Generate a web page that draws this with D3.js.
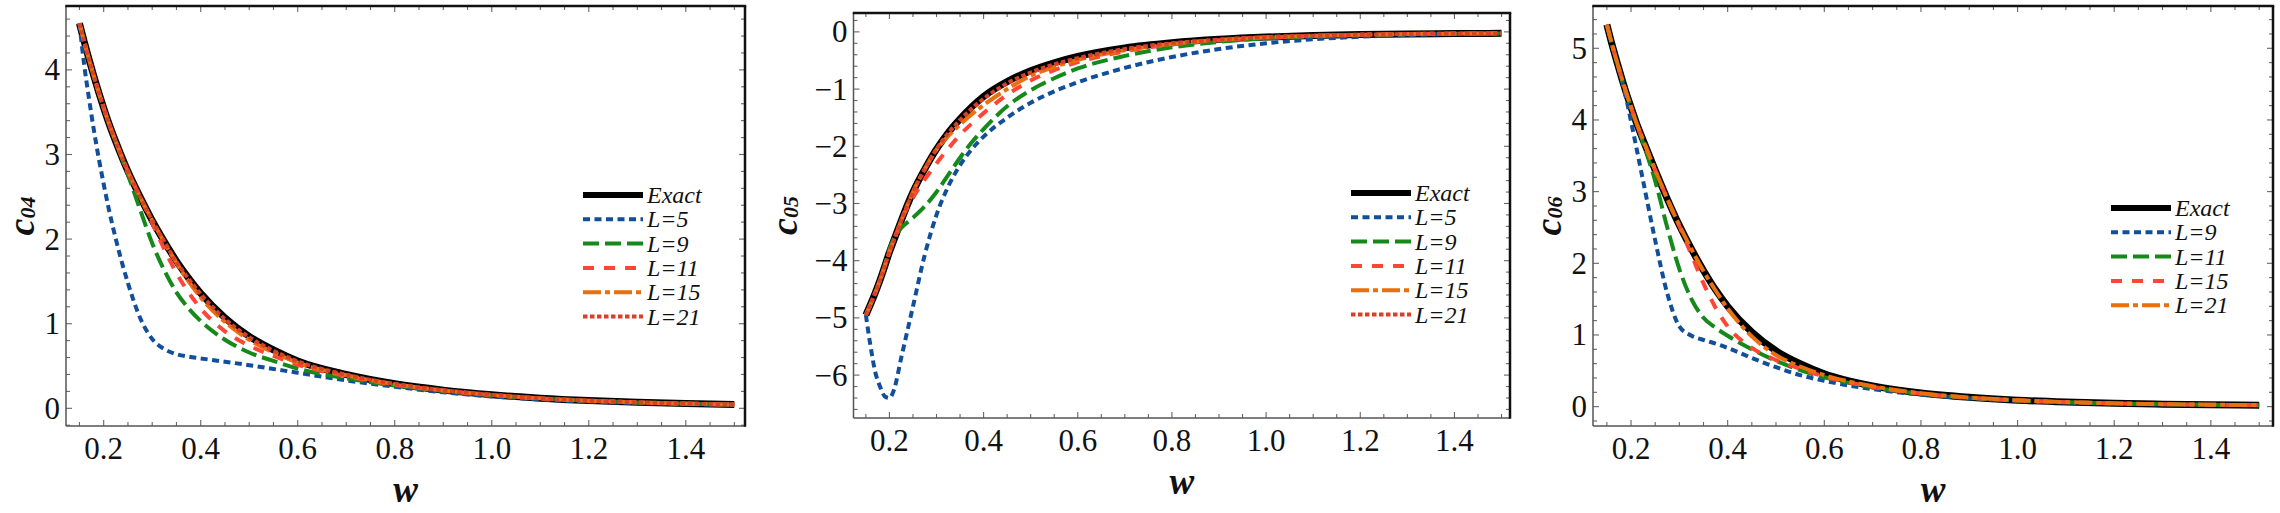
<!DOCTYPE html>
<html>
<head>
<meta charset="utf-8">
<script src="https://cdn.jsdelivr.net/npm/d3@7"></script>
<style>
  html, body { margin: 0; padding: 0; background: #fff; }
  svg { display: block; }
</style>
</head>
<body>
<svg id="chart" width="2280" height="513"></svg>
<script>
// ---------------- DATA ----------------
const wValues = [0.15, 0.16, 0.17, 0.18, 0.19, 0.2, 0.21, 0.225, 0.25, 0.275, 0.3, 0.325, 0.35, 0.375, 0.4, 0.45, 0.5, 0.55, 0.6, 0.7, 0.8, 0.9, 1.0, 1.1, 1.2, 1.3, 1.4, 1.5];

// c04 panel
const c04Exact = [4.55, 4.33, 4.12, 3.92, 3.73, 3.55, 3.38, 3.15, 2.80, 2.50, 2.22, 1.97, 1.74, 1.54, 1.36, 1.07, 0.85, 0.69, 0.56, 0.40, 0.29, 0.215, 0.16, 0.12, 0.092, 0.072, 0.057, 0.045];
const c04L5   = [4.55, 4.05, 3.65, 3.28, 2.95, 2.65, 2.37, 2.00, 1.48, 1.07, 0.82, 0.70, 0.64, 0.61, 0.59, 0.55, 0.51, 0.465, 0.42, 0.33, 0.255, 0.19, 0.14, 0.105, 0.08, 0.062, 0.05, 0.04];
const c04L9   = [4.55, 4.33, 4.12, 3.92, 3.73, 3.55, 3.38, 3.15, 2.76, 2.35, 1.95, 1.63, 1.37, 1.18, 1.03, 0.81, 0.66, 0.56, 0.47, 0.355, 0.27, 0.205, 0.155, 0.116, 0.089, 0.07, 0.055, 0.044];
const c04L11  = [4.55, 4.33, 4.12, 3.92, 3.73, 3.55, 3.38, 3.15, 2.80, 2.50, 2.19, 1.88, 1.60, 1.37, 1.18, 0.91, 0.74, 0.62, 0.515, 0.38, 0.28, 0.21, 0.155, 0.116, 0.089, 0.07, 0.055, 0.044];
const c04L15  = [4.55, 4.33, 4.12, 3.92, 3.73, 3.55, 3.38, 3.15, 2.80, 2.50, 2.22, 1.96, 1.72, 1.50, 1.31, 1.02, 0.81, 0.66, 0.54, 0.39, 0.285, 0.212, 0.158, 0.118, 0.09, 0.071, 0.056, 0.044];
const c04L21  = [4.55, 4.33, 4.12, 3.92, 3.73, 3.55, 3.38, 3.15, 2.80, 2.50, 2.22, 1.97, 1.73, 1.53, 1.35, 1.055, 0.84, 0.68, 0.555, 0.397, 0.288, 0.214, 0.159, 0.119, 0.091, 0.071, 0.056, 0.045];

// c05 panel
const c05Exact = [-4.95, -4.76, -4.56, -4.34, -4.10, -3.85, -3.63, -3.30, -2.80, -2.40, -2.05, -1.76, -1.52, -1.31, -1.13, -0.87, -0.68, -0.54, -0.43, -0.28, -0.19, -0.13, -0.09, -0.065, -0.048, -0.037, -0.03, -0.025];
const c05L5    = [-4.95, -5.50, -5.95, -6.20, -6.37, -6.40, -6.25, -5.70, -4.80, -3.90, -3.20, -2.70, -2.33, -2.05, -1.83, -1.50, -1.24, -1.04, -0.88, -0.63, -0.44, -0.30, -0.20, -0.13, -0.085, -0.055, -0.038, -0.028];
const c05L9    = [-4.95, -4.76, -4.56, -4.34, -4.08, -3.80, -3.60, -3.43, -3.25, -3.05, -2.80, -2.50, -2.20, -1.93, -1.70, -1.30, -1.02, -0.81, -0.64, -0.42, -0.27, -0.175, -0.115, -0.078, -0.056, -0.042, -0.033, -0.027];
const c05L11   = [-4.95, -4.76, -4.56, -4.34, -4.10, -3.85, -3.63, -3.30, -2.90, -2.58, -2.30, -2.04, -1.80, -1.60, -1.42, -1.10, -0.85, -0.67, -0.53, -0.34, -0.22, -0.145, -0.10, -0.07, -0.051, -0.039, -0.031, -0.025];
const c05L15   = [-4.95, -4.76, -4.56, -4.34, -4.10, -3.85, -3.63, -3.30, -2.80, -2.40, -2.06, -1.82, -1.62, -1.44, -1.28, -1.00, -0.77, -0.61, -0.49, -0.32, -0.21, -0.14, -0.095, -0.068, -0.05, -0.038, -0.03, -0.025];
const c05L21   = [-4.95, -4.76, -4.56, -4.34, -4.10, -3.85, -3.63, -3.30, -2.80, -2.40, -2.05, -1.77, -1.54, -1.34, -1.17, -0.90, -0.71, -0.57, -0.46, -0.30, -0.20, -0.135, -0.092, -0.066, -0.049, -0.037, -0.03, -0.025];

// c06 panel
const c06Exact = [5.33, 5.07, 4.83, 4.60, 4.38, 4.18, 3.98, 3.72, 3.30, 2.90, 2.53, 2.20, 1.90, 1.63, 1.40, 1.04, 0.78, 0.60, 0.46, 0.29, 0.19, 0.13, 0.09, 0.064, 0.047, 0.035, 0.027, 0.021];
const c06L9    = [5.33, 5.07, 4.83, 4.58, 4.30, 3.98, 3.65, 3.15, 2.32, 1.58, 1.12, 0.99, 0.93, 0.88, 0.82, 0.68, 0.55, 0.44, 0.36, 0.245, 0.168, 0.117, 0.081, 0.058, 0.043, 0.032, 0.025, 0.019];
const c06L11   = [5.33, 5.07, 4.83, 4.60, 4.38, 4.18, 3.98, 3.68, 3.15, 2.50, 1.92, 1.50, 1.24, 1.10, 0.99, 0.80, 0.64, 0.51, 0.41, 0.27, 0.178, 0.123, 0.086, 0.062, 0.045, 0.034, 0.026, 0.02];
const c06L15   = [5.33, 5.07, 4.83, 4.60, 4.38, 4.18, 3.98, 3.72, 3.30, 2.90, 2.52, 2.12, 1.72, 1.38, 1.12, 0.82, 0.65, 0.53, 0.42, 0.275, 0.183, 0.126, 0.088, 0.063, 0.046, 0.034, 0.026, 0.02];
const c06L21   = [5.33, 5.07, 4.83, 4.60, 4.38, 4.18, 3.98, 3.72, 3.30, 2.90, 2.53, 2.20, 1.89, 1.62, 1.37, 0.98, 0.72, 0.56, 0.44, 0.285, 0.187, 0.128, 0.089, 0.064, 0.047, 0.035, 0.027, 0.021];

const legend04 = ["Exact", "L=5", "L=9", "L=11", "L=15", "L=21"];
const legend05 = ["Exact", "L=5", "L=9", "L=11", "L=15", "L=21"];
const legend06 = ["Exact", "L=9", "L=11", "L=15", "L=21"];

const xTickValues = [0.2, 0.4, 0.6, 0.8, 1.0, 1.2, 1.4];
const yTicks04 = [0, 1, 2, 3, 4];
const yTicks05 = [-6, -5, -4, -3, -2, -1, 0];
const yTicks06 = [0, 1, 2, 3, 4, 5];

// ---------------- STYLES / LAYOUT ----------------
const lineStyles = [
  { color: "#000000", width: 7, dash: null, legendWidth: 6 },
  { color: "#114f9a", width: 4, dash: "7,4.5", legendWidth: 4 },
  { color: "#15891a", width: 4, dash: "16,6", legendWidth: 4 },
  { color: "#ff4535", width: 4, dash: "11,10", legendWidth: 4 },
  { color: "#e8700e", width: 4, dash: "18,4,5,4", legendWidth: 4 },
  { color: "#d8402b", width: 4, dash: "4.5,2.5", legendWidth: 4 }
];

const panels = [
  { x0: 66, x1: 745, y0: 6, y1: 426, xDom: [0.1223, 1.522], yDom: [-0.209, 4.755], yTicks: yTicks04,
    yMinorStep: 0.2, sub: "04", labelX: 34, legX: 583, legY: 195,
    series: [c04Exact, c04L5, c04L9, c04L11, c04L15, c04L21], names: legend04 },
  { x0: 853.5, x1: 1510, y0: 13, y1: 418, xDom: [0.1237, 1.518], yDom: [-6.75, 0.33], yTicks: yTicks05,
    yMinorStep: 0.2, sub: "05", labelX: 797, legX: 1351, legY: 193,
    series: [c05Exact, c05L5, c05L9, c05L11, c05L15, c05L21], names: legend05 },
  { x0: 1593, x1: 2273, y0: 6, y1: 426, xDom: [0.1213, 1.5286], yDom: [-0.27, 5.59], yTicks: yTicks06,
    yMinorStep: 0.2, sub: "06", labelX: 1561, legX: 2111, legY: 208,
    series: [c06Exact, c06L9, c06L11, c06L15, c06L21], names: legend06 }
];

const FONT = "'Liberation Serif', 'Times New Roman', serif";
const svg = d3.select("#chart");

panels.forEach(p => {
  const x = d3.scaleLinear().domain(p.xDom).range([p.x0, p.x1]);
  const y = d3.scaleLinear().domain(p.yDom).range([p.y1, p.y0]);
  const g = svg.append("g");

  const clipId = "clip" + p.sub;
  svg.append("clipPath").attr("id", clipId).append("rect")
    .attr("x", p.x0).attr("y", p.y0).attr("width", p.x1 - p.x0).attr("height", p.y1 - p.y0);

  // minor / major ticks (mirrored on all four sides)
  const xMinor = d3.range(0.15, 1.5001, 0.05).map(v => +v.toFixed(3));
  const yMinor = d3.range(Math.ceil(p.yDom[0] / p.yMinorStep) * p.yMinorStep, p.yDom[1], p.yMinorStep).map(v => +v.toFixed(3));
  const isMajorX = v => xTickValues.some(t => Math.abs(t - v) < 1e-6);
  const isMajorY = v => p.yTicks.some(t => Math.abs(t - v) < 1e-6);
  const tickG = g.append("g").attr("stroke", "#666").attr("stroke-width", 1.1);
  xMinor.forEach(v => {
    const len = isMajorX(v) ? 6 : 4;
    tickG.append("line").attr("x1", x(v)).attr("x2", x(v)).attr("y1", p.y1).attr("y2", p.y1 - len);
    tickG.append("line").attr("x1", x(v)).attr("x2", x(v)).attr("y1", p.y0).attr("y2", p.y0 + len);
  });
  yMinor.forEach(v => {
    const len = isMajorY(v) ? 6 : 4;
    tickG.append("line").attr("y1", y(v)).attr("y2", y(v)).attr("x1", p.x0).attr("x2", p.x0 + len);
    tickG.append("line").attr("y1", y(v)).attr("y2", y(v)).attr("x1", p.x1).attr("x2", p.x1 - len);
  });

  // series
  const line = d3.line().x((d, i) => x(wValues[i])).y(d => y(d)).curve(d3.curveMonotoneX);
  const plotG = g.append("g").attr("clip-path", `url(#${clipId})`);
  p.series.forEach((s, i) => {
    const st = lineStyles[i];
    plotG.append("path").datum(s)
      .attr("d", line)
      .attr("fill", "none")
      .attr("stroke", st.color)
      .attr("stroke-width", st.width)
      .attr("stroke-dasharray", st.dash)
      .attr("stroke-linejoin", "round");
  });

  // frame
  g.append("line").attr("x1", p.x0).attr("x2", p.x0).attr("y1", p.y0).attr("y2", p.y1)
    .attr("stroke", "#555").attr("stroke-width", 1.5);
  g.append("line").attr("x1", p.x0).attr("x2", p.x1).attr("y1", p.y1).attr("y2", p.y1)
    .attr("stroke", "#555").attr("stroke-width", 1.5);
  g.append("line").attr("x1", p.x0 - 0.75).attr("x2", p.x1 + 1.25).attr("y1", p.y0).attr("y2", p.y0)
    .attr("stroke", "#111").attr("stroke-width", 2.5);
  g.append("line").attr("x1", p.x1).attr("x2", p.x1).attr("y1", p.y0).attr("y2", p.y1 + 0.75)
    .attr("stroke", "#111").attr("stroke-width", 2.5);

  // tick labels
  g.append("g").selectAll("text").data(xTickValues).join("text")
    .attr("x", d => x(d)).attr("y", p.y1 + 33)
    .attr("text-anchor", "middle")
    .attr("font-family", FONT).attr("font-size", 31).attr("fill", "#111")
    .text(d => d3.format(".1f")(d));
  g.append("g").selectAll("text").data(p.yTicks).join("text")
    .attr("x", p.x0 - 6).attr("y", d => y(d) + 10.5)
    .attr("text-anchor", "end")
    .attr("font-family", FONT).attr("font-size", 31).attr("fill", "#111")
    .text(d => d < 0 ? "\u2212" + Math.abs(d) : String(d));

  // axis titles
  g.append("text")
    .attr("x", (p.x0 + p.x1) / 2).attr("y", p.y1 + 76)
    .attr("text-anchor", "middle")
    .attr("font-family", FONT).attr("font-size", 37).attr("font-weight", "bold").attr("font-style", "italic")
    .attr("fill", "#111")
    .text("w");
  const yl = g.append("text")
    .attr("transform", `translate(${p.labelX},${(p.y0 + p.y1) / 2}) rotate(-90)`)
    .attr("text-anchor", "middle")
    .attr("font-family", FONT).attr("font-weight", "bold").attr("font-style", "italic").attr("fill", "#111");
  yl.append("tspan").attr("font-size", 38).text("c");
  yl.append("tspan").attr("font-size", 22).attr("dy", 1).text(p.sub);

  // legend
  const legG = g.append("g");
  p.names.forEach((name, i) => {
    const st = lineStyles[i];
    const ly = p.legY + i * 24.3;
    legG.append("line")
      .attr("x1", p.legX).attr("x2", p.legX + 60).attr("y1", ly).attr("y2", ly)
      .attr("stroke", st.color).attr("stroke-width", st.legendWidth)
      .attr("stroke-dasharray", st.dash);
    legG.append("text")
      .attr("x", p.legX + 64).attr("y", ly + 8)
      .attr("font-family", FONT).attr("font-size", 24).attr("font-style", "italic").attr("fill", "#111")
      .text(name);
  });
});
</script>
</body>
</html>
